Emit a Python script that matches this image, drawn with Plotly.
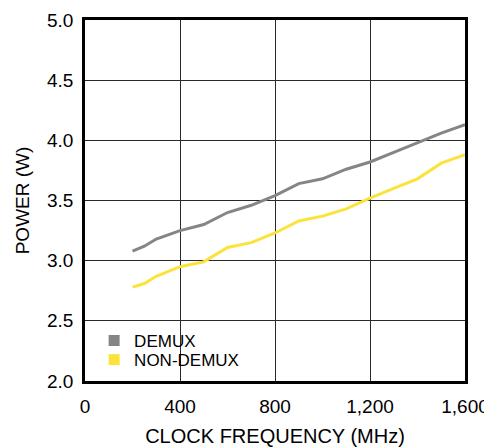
import plotly.graph_objects as go

# Clock frequency (MHz) and power (W)
freq = [200, 250, 300, 400, 500, 600, 700, 800, 900, 1000, 1100, 1200, 1300, 1400, 1500, 1600]
demux = [3.08, 3.12, 3.18, 3.25, 3.30, 3.40, 3.46, 3.54, 3.64, 3.68, 3.76, 3.82, 3.90, 3.98, 4.06, 4.13]
non_demux = [2.78, 2.81, 2.87, 2.95, 2.99, 3.11, 3.15, 3.23, 3.33, 3.37, 3.43, 3.52, 3.60, 3.68, 3.81, 3.88]

x_ticks = [0, 400, 800, 1200, 1600]
x_labels = ["0", "400", "800", "1,200", "1,600"]

gray = "#858585"
yellow = "#FBE33C"

fig = go.Figure()

# the curves
fig.add_trace(go.Scatter(x=freq, y=demux, mode="lines", line=dict(color=gray, width=3), showlegend=False))
fig.add_trace(go.Scatter(x=freq, y=non_demux, mode="lines", line=dict(color=yellow, width=3), showlegend=False))

# legend entries drawn as squares, one legend each so spacing can be set
fig.add_trace(go.Scatter(x=[None], y=[None], mode="markers", name="DEMUX", legend="legend",
                         marker=dict(symbol="square", size=11, color=gray)))
fig.add_trace(go.Scatter(x=[None], y=[None], mode="markers", name="NON-DEMUX", legend="legend2",
                         marker=dict(symbol="square", size=11, color=yellow)))

leg = dict(xanchor="left", yanchor="middle", bgcolor="rgba(0,0,0,0)", font=dict(size=17))

fig.update_layout(
    width=492, height=447,
    margin=dict(l=77, r=35, t=12, b=74),
    paper_bgcolor="white", plot_bgcolor="white",
    font=dict(family="Liberation Sans, Arial, sans-serif", size=19, color="black"),
    legend=dict(x=0.024, y=0.111, **leg),
    legend2=dict(x=0.024, y=0.058, **leg),
)

fig.update_xaxes(
    range=[0, 1600], tickvals=x_ticks, ticktext=x_labels,
    showgrid=True, gridcolor="#2a2a2a", gridwidth=1,
    showline=True, linecolor="black", linewidth=2.5, mirror=True,
    zeroline=False, ticks="", ticklabelstandoff=6, automargin=False,
    title=dict(text="CLOCK FREQUENCY (MHz)", standoff=14, font=dict(size=20)),
)
fig.update_yaxes(
    range=[2.0, 5.0], dtick=0.5, tickformat=".1f",
    showgrid=True, gridcolor="#2a2a2a", gridwidth=1,
    showline=True, linecolor="black", linewidth=2.5, mirror=True,
    zeroline=False, ticks="", ticklabelstandoff=5, automargin=False,
    title=dict(text="POWER (W)", standoff=13, font=dict(size=19)),
)

fig.write_html("out.html")
